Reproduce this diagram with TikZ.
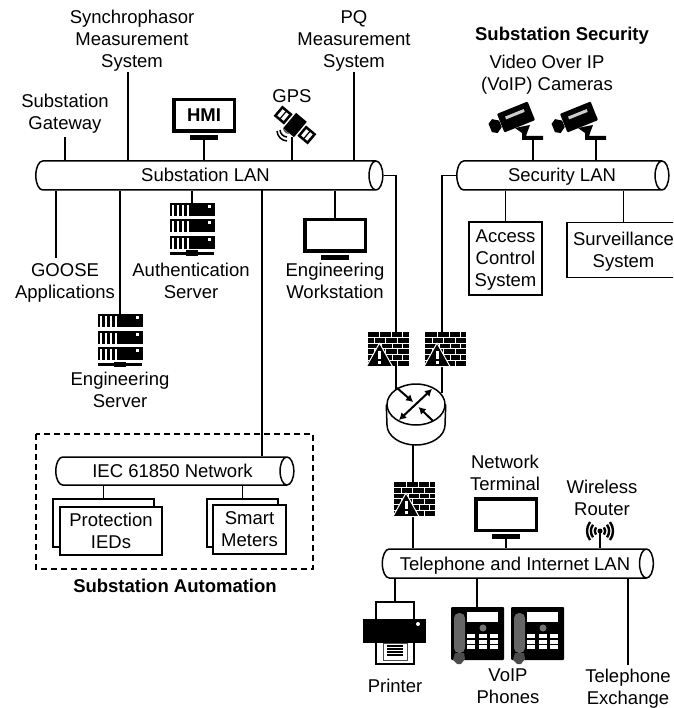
\documentclass[tikz,border=0pt]{standalone}
\usepackage{fontspec}
\setmainfont{Liberation Sans}
\usepackage{tikz}
\usetikzlibrary{calc,shapes.geometric,arrows.meta}

\tikzset{
    wire/.style={line width=1.5pt},
    struts/.style={execute at begin node=\rule{0pt}{19pt},execute at end node=\rule[-6pt]{0pt}{6pt}},
    lanbus/.style={cylinder,draw,fill=white,line width=1.5pt,aspect=0.55,inner sep=0pt,struts,
        font=\fontsize{18.5}{22}\selectfont},
    lbl/.style={align=center,inner sep=0pt,struts,font=\fontsize{18.5}{22}\selectfont},
    mlbl/.style={lbl,yshift=-3pt},
    boldlbl/.style={lbl,font=\fontsize{18.5}{22}\selectfont\bfseries},
    devbox/.style={draw,fill=white,line width=1.5pt,inner sep=0pt},
    monitor/.style={draw,fill=white,line width=3.5pt,minimum width=60.5pt,minimum height=31.5pt,
        inner sep=0pt,struts,font=\fontsize{18.5}{22}\selectfont\bfseries},
    stand/.style={fill=black,minimum width=28pt,minimum height=5pt,inner sep=0pt},
    pics/firewall/.style={code={
        \fill (0,0) rectangle (41,34);
        \foreach \y in {5.2,11,16.8,22.6,28.4}
        \draw[white,line width=1pt] (0,\y) -- (41,\y);
        \foreach \y/\a/\b/\c in {0/12/24/35,5.8/7/18/30,11.6/14/25/35,17.4/7/18/30,23.2/14/25/35,29/7/18/30}
        \draw[white,line width=1pt] (\a,\y) -- (\a,\y+5) (\b,\y) -- (\b,\y+5) (\c,\y) -- (\c,\y+5);
        \draw[white,line width=1pt,fill=black,line join=round] (12,11) -- (-1,34.5) -- (25,34.5) -- cycle;
        \fill[white] (10.5,19) rectangle (13.5,27);
        \fill[white] (10.5,29) rectangle (13.5,32);
    }},
    pics/server/.style={code={
        \foreach \u in {0,16.5,33}
        {
        \fill (-22.5,\u) rectangle (22.5,\u+13);
        \foreach \x in {-20.5,-15.5,-10.5,-5.5}
        \fill[white] (\x,\u+2) rectangle (\x+2,\u+13);
        \fill[white] (16,\u+2) rectangle (19,\u+5);
        }
        \fill (-22,49) rectangle (22,51.5);
        \fill (-6,47.5) rectangle (6,52.5);
    }},
    pics/camera/.style={code={
        \begin{scope}[shift={(-17,-23)},rotate=22]
        \fill[rounded corners=1pt] (-16.5,-10) rectangle (16.5,10);
        \fill (-17,-3) -- (-23,-7) -- (-28,-4) -- (-28,5) -- (-23,8) -- (-17,4) -- cycle;
        \fill[white!80!black] (-10,-4.5) rectangle (10,-1.5);
        \end{scope}
        \fill (-18,-12) -- (-3,-15) -- (-6,-7) -- (-7,-4) -- (10,-4) -- (10,0) -- (-11,0) -- (-11,-7) -- cycle;
    }},
    pics/satellite/.style={code={
        \begin{scope}[rotate=-40]
        \fill (-7,-10) rectangle (7,10);
        \draw[line width=2.5pt,fill=white] (-21,-5.5) rectangle (-10,5.5);
        \draw[line width=2.5pt,fill=white] (10,-5.5) rectangle (21,5.5);
        \draw[line width=1.2pt] (-15.5,-5.5) -- (-15.5,5.5) (15.5,-5.5) -- (15.5,5.5);
        \end{scope}
        \draw[line width=1.5pt] (-18,6) to[bend right=40] (-8,16);
        \draw[line width=1.5pt] (-15,5) to[bend right=40] (-8,12);
        \fill[black!70] (-12,3) to[bend right=40] (-6,9) -- cycle;
    }},
    pics/phone/.style={code={
        \fill[rounded corners=1pt] (0,0) rectangle (53,53);
        \fill[black!60,rounded corners=5pt] (3,6) rectangle (14,46);
        \fill[black!70] (4,46) -- (13,46) -- (14,52) -- (10,57) -- (6,57) -- (2,53) -- cycle;
        \fill[white] (16,5) rectangle (47,15);
        \fill[black!55] (32,21) circle [radius=3.5pt];
        \foreach \y in {27,32.5,38}
        \foreach \x in {16,27.5,39}
        \fill[white] (\x,\y) rectangle (\x+8,\y+4.2);
    }},
    pics/printer/.style={code={
        \draw[line width=1.5pt,fill=white] (-19,0) rectangle (19,18);
        \draw[line width=1.5pt,fill=white] (-19,40) rectangle (19,62);
        \fill (-32,17) rectangle (31,41);
        \fill[white] (23,22) circle [radius=2pt];
        \draw[line width=1pt,black!70,fill=white] (-12,41) rectangle (12,58);
        \foreach \y in {44,47,50,53}
        \draw[line width=1.2pt] (-8,\y) -- (8,\y);
    }}
}

\begin{document}
\begin{tikzpicture}[x=1pt,y=-1pt]
    \path[use as bounding box,clip] (0,0) rectangle (673,708);
    % LAN buses
    \node[lanbus,minimum height=347pt,minimum width=29pt] (sublan) at (205.5,175.5) {Substation LAN};
    \node[lanbus,minimum height=212pt,minimum width=29pt] (seclan) at (559,175.5) {\hspace*{6pt}Security LAN};
    \node[lanbus,minimum height=238pt,minimum width=28pt] (ieclan) at (171,471) {\hspace*{3pt}IEC 61850 Network};
    \node[lanbus,minimum height=271pt,minimum width=29pt] (tellan) at (514,563.5) {\hspace*{2pt}Telephone and Internet LAN};

    % labels over the substation LAN
    \node[mlbl] (syncphasor) at (132,39) {Synchrophasor\\Measurement\\System};
    \node[mlbl] (pqsys) at (354,39) {PQ\\Measurement\\System};
    \node[mlbl] (subgate) at (65,112) {Substation\\Gateway};
    \node[lbl] (gpslbl) at (292,96) {GPS};
    \node[monitor] (hmi) at (204,115.5) {HMI};
    \node[stand] (hmistand) at (204,137.5) {};
    \pic (gps) at (295,125) {satellite};
    \coordinate (gpsfoot) at (292,137);
    \coordinate (syncfoot) at (128,72);
    \coordinate (gatefoot) at (65,137);
    \coordinate (pqfoot) at (354,72);
    \draw[wire] (gatefoot) -- (gatefoot |- sublan.north);
    \draw[wire] (syncfoot) -- (syncfoot |- sublan.north);
    \draw[wire] (hmistand.south) -- (hmistand.south |- sublan.north);
    \draw[wire] (gpsfoot) -- (gpsfoot |- sublan.north);
    \draw[wire] (pqfoot) -- (pqfoot |- sublan.north);

    % labels under the substation LAN
    \node[mlbl] (goose) at (65,281) {GOOSE\\Applications};
    \node[mlbl] (authlbl) at (191,281) {Authentication\\Server};
    \node[mlbl] (worklbl) at (335,281) {Engineering\\Workstation};
    \node[mlbl] (englbl) at (120,390) {Engineering\\Server};
    \coordinate (goosetop) at (56,258);
    \coordinate (authtop) at (192,203);
    \coordinate (engtop) at (120,314);
    \pic at (authtop) {server};
    \pic at (engtop) {server};
    \node[monitor] (workst) at (335,235.5) {};
    \node[stand] (workstand) at (335,257.5) {};
    \draw[wire] (goosetop) -- (goosetop |- sublan.south);
    \draw[wire] (authtop) -- (authtop |- sublan.south);
    \draw[wire] (engtop) -- (engtop |- sublan.south);
    \draw[wire] (workst.north) -- (workst.north |- sublan.south);

    % substation automation
    \draw[line width=1.5pt,dashed,dash pattern=on 6pt off 4pt] (36,434) rectangle (313,569);
    \node[boldlbl] (autolbl) at (175,586) {Substation Automation};
    \coordinate (iecup) at (262,190);
    \draw[wire] (iecup) -- (iecup |- ieclan.north);
    \node[devbox,minimum width=101pt,minimum height=48pt] (iedback) at (103.5,523) {};
    \node[devbox,minimum width=102pt,minimum height=48pt] (ied) at (111,531) {};
    \node[mlbl] (iedlbl) at (ied) {Protection\\IEDs};
    \node[devbox,minimum width=71pt,minimum height=48pt] (meterback) at (242.5,523) {};
    \node[devbox,minimum width=73pt,minimum height=49pt] (meter) at (249.5,529.5) {};
    \node[mlbl] (meterlbl) at (meter) {Smart\\Meters};
    \draw[wire] (iedback.north) -- (iedback.north |- ieclan.south);
    \draw[wire] (meterback.north) -- (meterback.north |- ieclan.south);

    % substation security
    \node[boldlbl] (seclbl) at (562,34) {Substation Security};
    \node[mlbl] (camlbl) at (547,72.5) {Video Over IP\\(VoIP) Cameras};
    \coordinate (camone) at (533,140);
    \coordinate (camtwo) at (596,140);
    \pic at (camone) {camera};
    \pic at (camtwo) {camera};
    \draw[wire] (camone) -- (camone |- seclan.north);
    \draw[wire] (camtwo) -- (camtwo |- seclan.north);
    \node[devbox,minimum width=73pt,minimum height=73pt] (access) at (505.5,258.5) {};
    \node[mlbl] (accesslbl) at (access) {Access\\Control\\System};
    \node[devbox,minimum width=113pt,minimum height=55pt] (surv) at (623.5,250) {};
    \node[mlbl] (survlbl) at (surv) {Surveillance\\System};
    \draw[wire] (access.north) -- (access.north |- seclan.south);
    \draw[wire] (surv.north) -- (surv.north |- seclan.south);

    % router and firewalls
    \node[ellipse,draw,line width=1.5pt,minimum width=58pt,minimum height=41pt,inner sep=0pt] (router) at (416,404.5) {};
    \draw[wire] (router.west) -- (387,425) .. controls (387,436) and (400,445) .. (416,445)
        .. controls (432,445) and (445,436) .. (445,425) -- (router.east);
    \coordinate (routerleft) at (396,390);
    \coordinate (routerright) at (442,393);
    \coordinate (routerfoot) at (413,445);
    \draw[wire] (sublan.east) -| (routerleft);
    \draw[wire] (seclan.west) -| (routerright);
    \draw[wire] (routerfoot) -- (routerfoot |- tellan.north);
    \pic at (367.5,332) {firewall};
    \pic at (425,332) {firewall};
    \pic at (394,482) {firewall};
    \foreach \a/\b in {397/388,433/421}
    \draw[line width=2pt,-{Latex[length=7pt,width=8pt]}] (\a,\b) -- ({\a+(416-\a)*0.85},{\b+(404.5-\b)*0.85});
    \draw[line width=2pt,{Latex[length=7pt,width=8pt]}-{Latex[length=7pt,width=8pt]}] (432,389) -- (399,420);

    % telephone and internet LAN
    \node[mlbl] (termlbl) at (505,473) {Network\\Terminal};
    \node[mlbl] (wifilbl) at (602,498) {Wireless\\Router};
    \node[monitor] (term) at (506,514.5) {};
    \node[stand] (termstand) at (506,536.5) {};
    \coordinate (wifidot) at (600,531);
    \fill (wifidot) circle [radius=2.5pt];
    \foreach \r in {4,7,10}
    {
    \draw[line width=2.4pt] (600-\r,531-\r*.9) to[bend right=35] (600-\r,531+\r*.9);
    \draw[line width=2.4pt] (600+\r,531-\r*.9) to[bend left=35] (600+\r,531+\r*.9);
    }
    \draw[wire] (termstand.south) -- (termstand.south |- tellan.north);
    \draw[wire] (wifidot) -- (wifidot |- tellan.north);
    \coordinate (printtop) at (395,602);
    \coordinate (phonetop) at (477,607);
    \coordinate (exchtop) at (628,665);
    \node[lbl] (printlbl) at (395,686) {Printer};
    \node[mlbl] (phonelbl) at (508,686.5) {VoIP\\Phones};
    \node[mlbl] (exchlbl) at (628,686.5) {Telephone\\Exchange};
    \pic at (printtop) {printer};
    \pic at (451,607) {phone};
    \pic at (511,607) {phone};
    \draw[wire] (printtop) -- (printtop |- tellan.south);
    \draw[wire] (phonetop) -- (phonetop |- tellan.south);
    \draw[wire] (exchtop) -- (exchtop |- tellan.south);
\end{tikzpicture}
\end{document}
